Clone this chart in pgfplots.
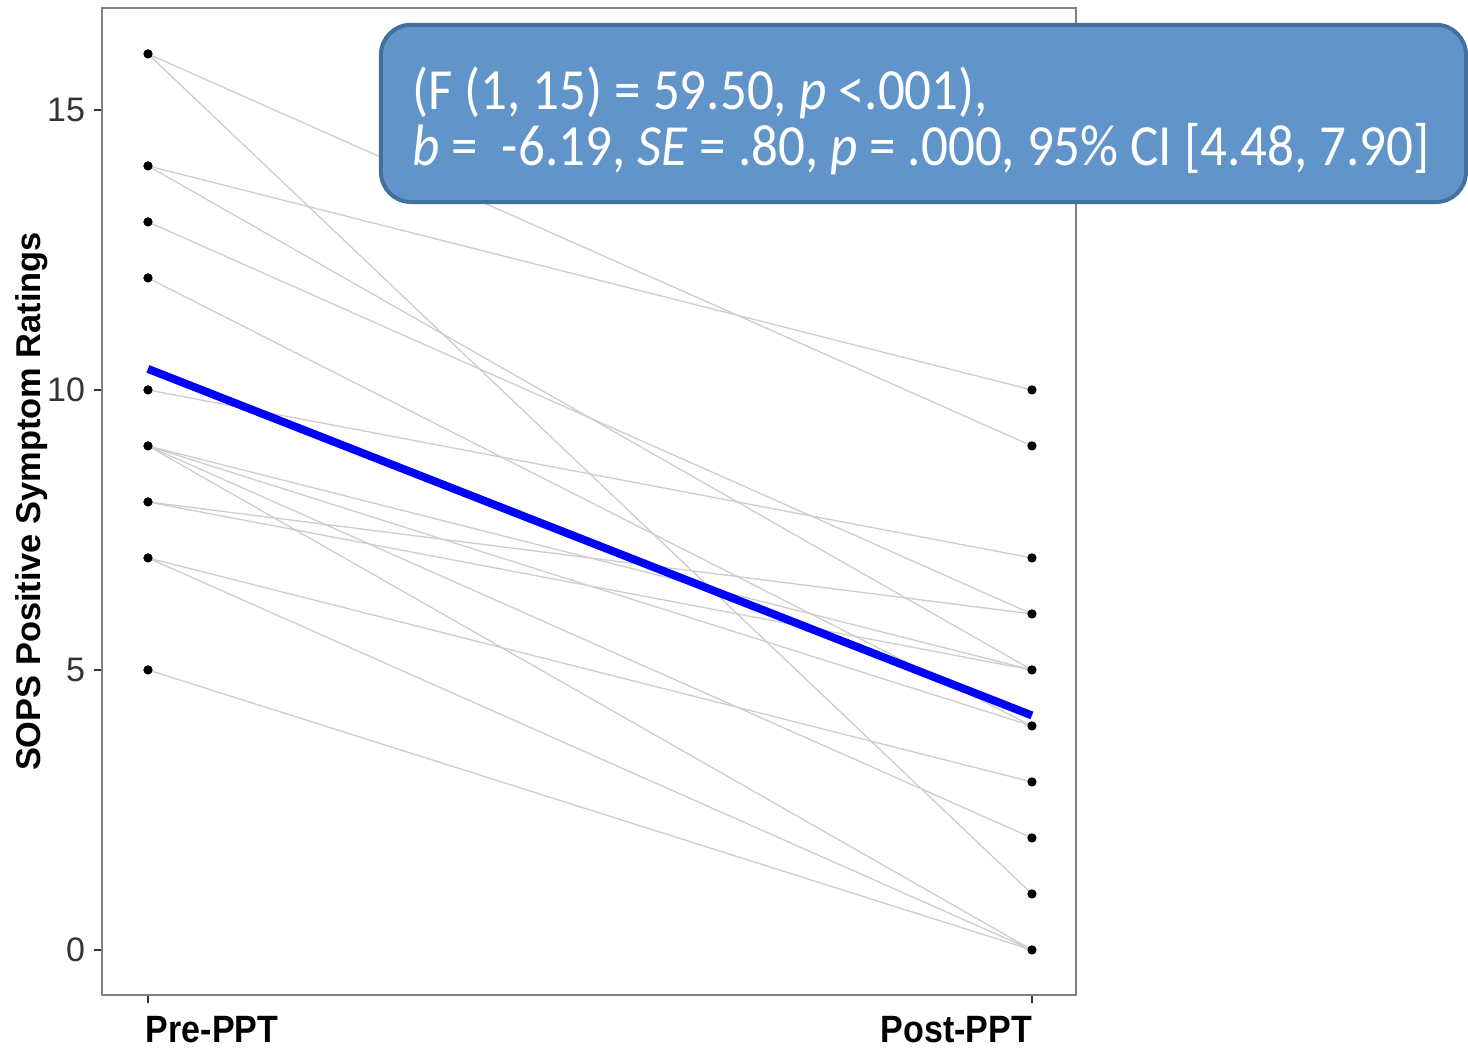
\documentclass[border=0pt]{standalone}
\usepackage{pgfplots}
\pgfplotsset{compat=1.18}
\usepackage{fontspec}
\setmainfont{Liberation Sans}
\newfontfamily\calibri{Carlito}
\definecolor{boxfill}{RGB}{97,149,201}
\definecolor{boxdraw}{RGB}{65,113,156}
\definecolor{lgray}{RGB}{205,205,205}
\definecolor{tickgray}{RGB}{51,51,51}
\definecolor{framegray}{RGB}{128,128,128}
\begin{document}
\begin{tikzpicture}
\begin{axis}[
  scale only axis,
  width=487pt, height=493.5pt,
  xmin=0.94796, xmax=2.04977,
  ymin=-0.8036, ymax=16.82,
  clip=false,
  axis line style={framegray, line width=0.9pt},
  xtick={1,2},
  xticklabels={\makebox[0pt][l]{\hspace*{-1pt}\scalebox{1}[1.12]{Pre-PPT}}, \makebox[0pt][r]{\scalebox{1}[1.12]{Post-PPT}}},
  ytick={0,5,10,15},
  tick align=outside,
  major tick length=4pt,
  tick style={tickgray, line width=0.7pt},
  xtick pos=bottom, ytick pos=left,
  /pgf/number format/assume math mode=true,
  yticklabel style={font=\fontsize{17}{17}\selectfont, text=tickgray, xshift=-1pt},
  xticklabel style={font=\fontsize{17}{17}\selectfont\bfseries, text=black, yshift=-3pt},
  ylabel={SOPS Positive Symptom Ratings},
  ylabel style={font=\fontsize{17.2}{17.2}\selectfont\bfseries, at={(rel axis cs:-0.0719,0.5)}, anchor=center},
]
% individual subjects
\addplot[lgray, line width=0.65pt] coordinates {(1,16) (2,9)};
\addplot[lgray, line width=0.65pt] coordinates {(1,16) (2,1)};
\addplot[lgray, line width=0.65pt] coordinates {(1,14) (2,10)};
\addplot[lgray, line width=0.65pt] coordinates {(1,14) (2,5)};
\addplot[lgray, line width=0.65pt] coordinates {(1,13) (2,6)};
\addplot[lgray, line width=0.65pt] coordinates {(1,12) (2,4)};
\addplot[lgray, line width=0.65pt] coordinates {(1,10) (2,7)};
\addplot[lgray, line width=0.65pt] coordinates {(1,9) (2,5)};
\addplot[lgray, line width=0.65pt] coordinates {(1,9) (2,4)};
\addplot[lgray, line width=0.65pt] coordinates {(1,9) (2,2)};
\addplot[lgray, line width=0.65pt] coordinates {(1,9) (2,0)};
\addplot[lgray, line width=0.65pt] coordinates {(1,8) (2,6)};
\addplot[lgray, line width=0.65pt] coordinates {(1,8) (2,5)};
\addplot[lgray, line width=0.65pt] coordinates {(1,7) (2,3)};
\addplot[lgray, line width=0.65pt] coordinates {(1,7) (2,0)};
\addplot[lgray, line width=0.65pt] coordinates {(1,5) (2,0)};
% points
\addplot[only marks, mark=*, mark size=2.1pt, black] coordinates {
 (1,16) (1,14) (1,13) (1,12) (1,10) (1,9) (1,8) (1,7) (1,5)
 (2,10) (2,9) (2,7) (2,6) (2,5) (2,4) (2,3) (2,2) (2,1) (2,0)};
% mean trend
\addplot[blue, line width=4pt] coordinates {(1,10.375) (2,4.1875)};
% callout
\draw[boxdraw, line width=2pt, fill=boxfill, rounded corners=15pt]
  (rel axis cs:0.2864,0.983) rectangle (rel axis cs:1.4005,0.8034);
\node[anchor=base west, inner sep=0pt, text=white, font=\calibri\fontsize{26.5}{27.5}\selectfont]
  at (rel axis cs:0.3183,0.8967) {\scalebox{1}[1.1]{(F (1, 15) = 59.50, \textit{p} <.001),}};
\node[anchor=base west, inner sep=0pt, text=white, font=\calibri\fontsize{26.5}{27.5}\selectfont]
  at (rel axis cs:0.3183,0.8409) {\scalebox{1}[1.1]{\textit{b} =\ \ -6.19, \textit{SE} = .80, \textit{p} = .000, 95\% CI [4.48, 7.90]}};
% bounding box
\path (rel axis cs:-0.10472,-0.04762) rectangle (rel axis cs:1.40246,1.00811);
\end{axis}
\end{tikzpicture}
\end{document}
